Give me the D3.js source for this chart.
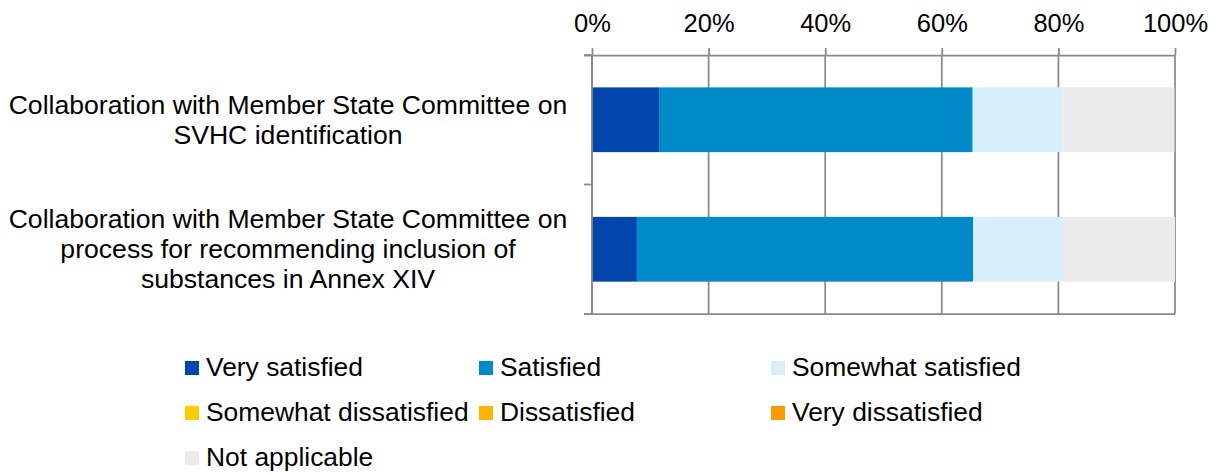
<!DOCTYPE html>
<html>
<head>
<meta charset="utf-8">
<script src="https://cdn.jsdelivr.net/npm/d3@7"></script>
<style>
  body { margin: 0; background: #fff; }
  text { font-family: "Liberation Sans", Arial, sans-serif; fill: #000; }
</style>
</head>
<body>
<script>
// Data
const categories = [
  "Collaboration with Member State Committee on SVHC identification",
  "Collaboration with Member State Committee on process for recommending inclusion of substances in Annex XIV"
];
const categoryLines = [
  ["Collaboration with Member State Committee on", "SVHC identification"],
  ["Collaboration with Member State Committee on", "process for recommending inclusion of", "substances in Annex XIV"]
];
const seriesNames = ["Very satisfied", "Satisfied", "Somewhat satisfied",
  "Somewhat dissatisfied", "Dissatisfied", "Very dissatisfied", "Not applicable"];
const seriesColors = ["#0046ad", "#008ac9", "#d7effa", "#ffcc00", "#ffb400", "#ff9900", "#ebebeb"];
// percent values per category, in the order of seriesNames
const veryValues = [11.5, 7.7];
const satisfiedValues = [53.8, 57.7];
const somewhatValues = [15.4, 15.4];
const somewhatDisValues = [0, 0];
const dissatisfiedValues = [0, 0];
const veryDisValues = [0, 0];
const naValues = [19.2, 19.2];
const xTicks = [0, 20, 40, 60, 80, 100];

const seriesValues = [veryValues, satisfiedValues, somewhatValues,
  somewhatDisValues, dissatisfiedValues, veryDisValues, naValues];

let table = categories.map((c, i) => {
  let row = { category: c };
  seriesNames.forEach((s, j) => row[s] = seriesValues[j][i]);
  return row;
});

// SVG
let width = 1221, height = 473;
let svg = d3.select('body')
  .append('svg')
    .attr('width', width)
    .attr('height', height);

let plot = { left: 592, right: 1175, top: 55, bottom: 314 };
let gridColor = '#8a8a8a';

// Scales
let xScale = d3.scaleLinear()
  .domain([0, 100])
  .range([plot.left, plot.right]);

let yScale = d3.scaleBand()
  .domain(categories)
  .range([plot.top, plot.bottom])
  .paddingInner(0.5)
  .paddingOuter(0.25);

let color = d3.scaleOrdinal().domain(seriesNames).range(seriesColors);

// Gridlines
svg.append('g')
  .selectAll('line')
  .data(xTicks)
  .enter()
  .append('line')
    .attr('x1', d => xScale(d))
    .attr('x2', d => xScale(d))
    .attr('y1', plot.top)
    .attr('y2', plot.bottom)
    .attr('stroke', gridColor)
    .attr('stroke-width', 1.75);

// Bars
let stacked = d3.stack().keys(seriesNames)(table);
svg.append('g')
  .selectAll('g')
  .data(stacked)
  .enter()
  .append('g')
    .attr('fill', d => color(d.key))
  .selectAll('rect')
  .data(d => d)
  .enter()
  .append('rect')
    .attr('x', d => xScale(d[0]))
    .attr('y', d => yScale(d.data.category))
    .attr('width', d => xScale(d[1]) - xScale(d[0]))
    .attr('height', yScale.bandwidth());

// Top axis
let xAxis = svg.append('g')
  .attr('transform', `translate(0,${plot.top})`)
  .call(d3.axisTop(xScale).tickValues(xTicks).tickFormat(d => d + '%').tickSize(7).tickSizeOuter(0));
xAxis.select('.domain').attr('stroke', gridColor).attr('stroke-width', 1.75)
  .attr('d', `M${plot.left - 8},0.5H${plot.right}`);
xAxis.selectAll('.tick line').attr('stroke', gridColor).attr('stroke-width', 1.75);
xAxis.selectAll('.tick text')
  .attr('font-size', 25.5)
  .attr('font-family', '"Liberation Sans", Arial, sans-serif')
  .attr('fill', '#000')
  .attr('dy', 0)
  .attr('y', -23);

// Left axis with ticks at band boundaries
let step = yScale.step();
let bounds = categories.map(c => yScale(c) - step * 0.25).concat([plot.bottom]);
svg.append('line')
  .attr('x1', plot.left).attr('x2', plot.left)
  .attr('y1', plot.top).attr('y2', plot.bottom)
  .attr('stroke', gridColor).attr('stroke-width', 1.75);
svg.append('g')
  .selectAll('line')
  .data(bounds)
  .enter()
  .append('line')
    .attr('x1', plot.left - 8)
    .attr('x2', plot.left)
    .attr('y1', d => d)
    .attr('y2', d => d)
    .attr('stroke', gridColor)
    .attr('stroke-width', 1.75);
svg.append('line')
  .attr('x1', plot.left - 8).attr('x2', plot.right)
  .attr('y1', plot.bottom).attr('y2', plot.bottom)
  .attr('stroke', gridColor).attr('stroke-width', 1.75);

// Category labels
let lineH = 30;
let labels = svg.append('g')
  .selectAll('text')
  .data(categories)
  .enter()
  .append('text')
    .attr('text-anchor', 'middle')
    .attr('font-size', 26.6)
    .attr('y', d => yScale(d) + yScale.bandwidth() / 2);
labels.each(function(d, i) {
  let lines = categoryLines[i];
  let first = -(lines.length - 1) / 2 * lineH + 9;
  d3.select(this).selectAll('tspan')
    .data(lines)
    .enter()
    .append('tspan')
      .attr('x', 288)
      .attr('dy', (l, k) => k === 0 ? first : lineH)
      .text(l => l);
});

// Legend
let legendX = [185, 479, 771];
let legendY = [368, 413, 458];
let legend = svg.append('g')
  .selectAll('g')
  .data(seriesNames)
  .enter()
  .append('g')
    .attr('transform', (d, i) => `translate(${legendX[i % 3]},${legendY[Math.floor(i / 3)]})`);
legend.append('rect')
  .attr('x', 0)
  .attr('y', -7)
  .attr('width', 14)
  .attr('height', 14)
  .attr('fill', d => color(d));
legend.append('text')
  .attr('x', 21)
  .attr('y', 8)
  .attr('font-size', 26.4)
  .text(d => d);
</script>
</body>
</html>
